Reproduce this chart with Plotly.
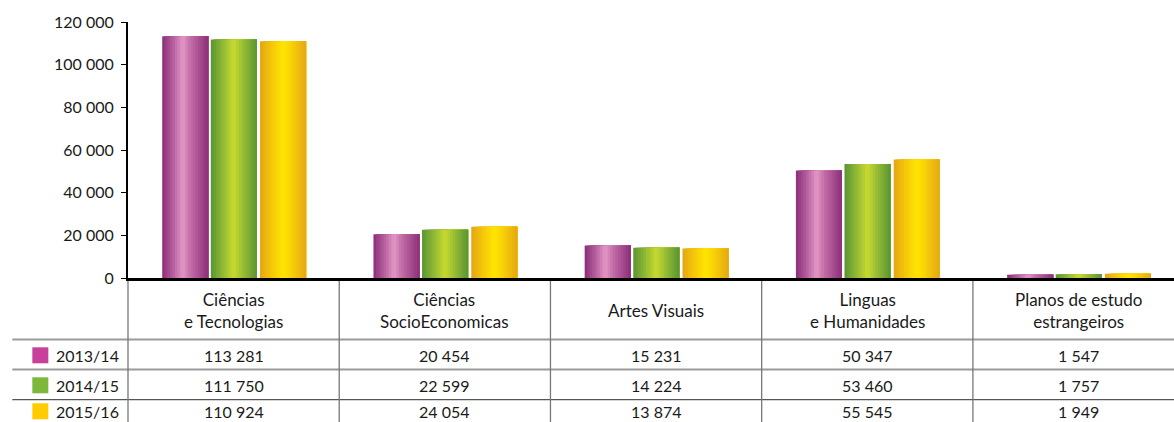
import plotly.graph_objects as go

categories = ["Ciências<br>e Tecnologias", "Ciências<br>SocioEconomicas", "Artes Visuais",
              "Linguas<br>e Humanidades", "Planos de estudo<br>estrangeiros"]
series_names = ["2013/14", "2014/15", "2015/16"]
v2013 = [113281, 20454, 15231, 50347, 1547]
v2014 = [111750, 22599, 14224, 53460, 1757]
v2015 = [110924, 24054, 13874, 55545, 1949]
y_ticks = [0, 20000, 40000, 60000, 80000, 100000, 120000]

series_values = [v2013, v2014, v2015]
legend_colors = ["#C8409A", "#7DB83A", "#FFCC00"]
gradients = [
    [(0.0, "#8C2C78"), (0.25, "#B863A0"), (0.45, "#E498C5"), (0.6, "#C56FAA"), (1.0, "#8C2E78")],
    [(0.0, "#5A9432"), (0.25, "#8EB836"), (0.5, "#C8DA2E"), (0.7, "#98BD35"), (1.0, "#5A9432")],
    [(0.0, "#E4A515"), (0.25, "#F4C70A"), (0.5, "#FFE500"), (0.7, "#F7CF08"), (1.0, "#E4A815")],
]
offsets = [-0.338, -0.108, 0.125]
bar_w = 0.218
N = 18

def hex2rgb(h):
    h = h.lstrip("#")
    return tuple(int(h[i:i + 2], 16) for i in (0, 2, 4))

def interp(stops, t):
    for (t0, c0), (t1, c1) in zip(stops[:-1], stops[1:]):
        if t0 <= t <= t1:
            f = (t - t0) / (t1 - t0) if t1 > t0 else 0
            a, b = hex2rgb(c0), hex2rgb(c1)
            return "rgb(%d,%d,%d)" % tuple(round(a[i] + (b[i] - a[i]) * f) for i in range(3))
    return stops[-1][1]

fig = go.Figure()
for s, vals in enumerate(series_values):
    step = bar_w / N
    for k in range(N):
        t = (k + 0.5) / N
        fig.add_trace(go.Bar(
            x=categories, y=vals,
            offset=offsets[s] + k * step, width=bar_w - k * step,
            marker=dict(color=interp(gradients[s], t), line=dict(width=0)),
            name=series_names[s], showlegend=False,
            hoverinfo="skip" if k else "x+y",
        ))

# pixel geometry
X0, X1 = 127.7, 1174.0
YT, YB = 21.7, 277.7
W, H = X1 - X0, YB - YT
def px(x):
    return (x - X0) / W
def py(y):
    return (YB - y) / H

shapes = []
# horizontal table lines
for yy, col, lw in [(339.3, "#9a9a9a", 2), (369.3, "#9a9a9a", 2), (399.3, "#555555", 1.2)]:
    shapes.append(dict(type="line", xref="paper", yref="paper", x0=px(12), x1=px(1174),
                       y0=py(yy), y1=py(yy), line=dict(color=col, width=lw), layer="below"))
# vertical table lines
cat_w = W / 4.952
for i in range(5):
    xx = X0 + i * cat_w
    shapes.append(dict(type="line", xref="paper", yref="paper", x0=px(xx), x1=px(xx),
                       y0=py(278), y1=py(422), line=dict(color="#777777", width=1.3), layer="below"))
# legend squares
row_y = [355, 385, 411]
for s in range(3):
    shapes.append(dict(type="rect", xref="paper", yref="paper", x0=px(32), x1=px(48),
                       y0=py(row_y[s] - 8), y1=py(row_y[s] + 8),
                       fillcolor=legend_colors[s], line=dict(width=0)))

annotations = []
txt = "#1a1a1a"
font_cat = dict(family="Lato", size=17, color=txt)
font_num = dict(family="Lato", size=16, color=txt)
for i, c in enumerate(categories):
    annotations.append(dict(x=i, xref="x", y=py(310), yref="paper", text=c, showarrow=False,
                            font=font_cat, xanchor="center", yanchor="middle", align="center"))
    for s in range(3):
        annotations.append(dict(x=i, xref="x", y=py(row_y[s]), yref="paper",
                                text=f"{series_values[s][i]:,}".replace(",", " "),
                                showarrow=False, font=font_num, xanchor="center", yanchor="middle"))
for s in range(3):
    annotations.append(dict(x=px(54), xref="paper", y=py(row_y[s]), yref="paper",
                            text=series_names[s], showarrow=False, font=font_num,
                            xanchor="left", yanchor="middle"))

fig.update_layout(
    width=1174, height=422,
    margin=dict(l=X0, r=1174 - X1, t=YT, b=422 - YB, pad=0),
    paper_bgcolor="white", plot_bgcolor="white",
    barmode="overlay",
    separators=", ",
    showlegend=False,
    font=dict(family="Lato", size=16, color=txt),
    shapes=shapes, annotations=annotations,
    xaxis=dict(range=[-0.5, 4.452], showticklabels=False, showgrid=False, zeroline=False,
               showline=True, linecolor="black", linewidth=2.5, ticks=""),
    yaxis=dict(range=[0, 120000], tickvals=y_ticks, tickformat=",d", showgrid=False,
               zeroline=False, showline=True, linecolor="black", linewidth=2,
               ticks="outside", ticklen=5, tickcolor="black", tickwidth=1,
               ticklabelstandoff=4,
               tickfont=dict(family="Lato", size=16, color=txt)),
)

fig.write_html("out.html", config={"displayModeBar": False},
               post_script="document.body.style.margin='0';document.body.style.overflow='hidden';")
